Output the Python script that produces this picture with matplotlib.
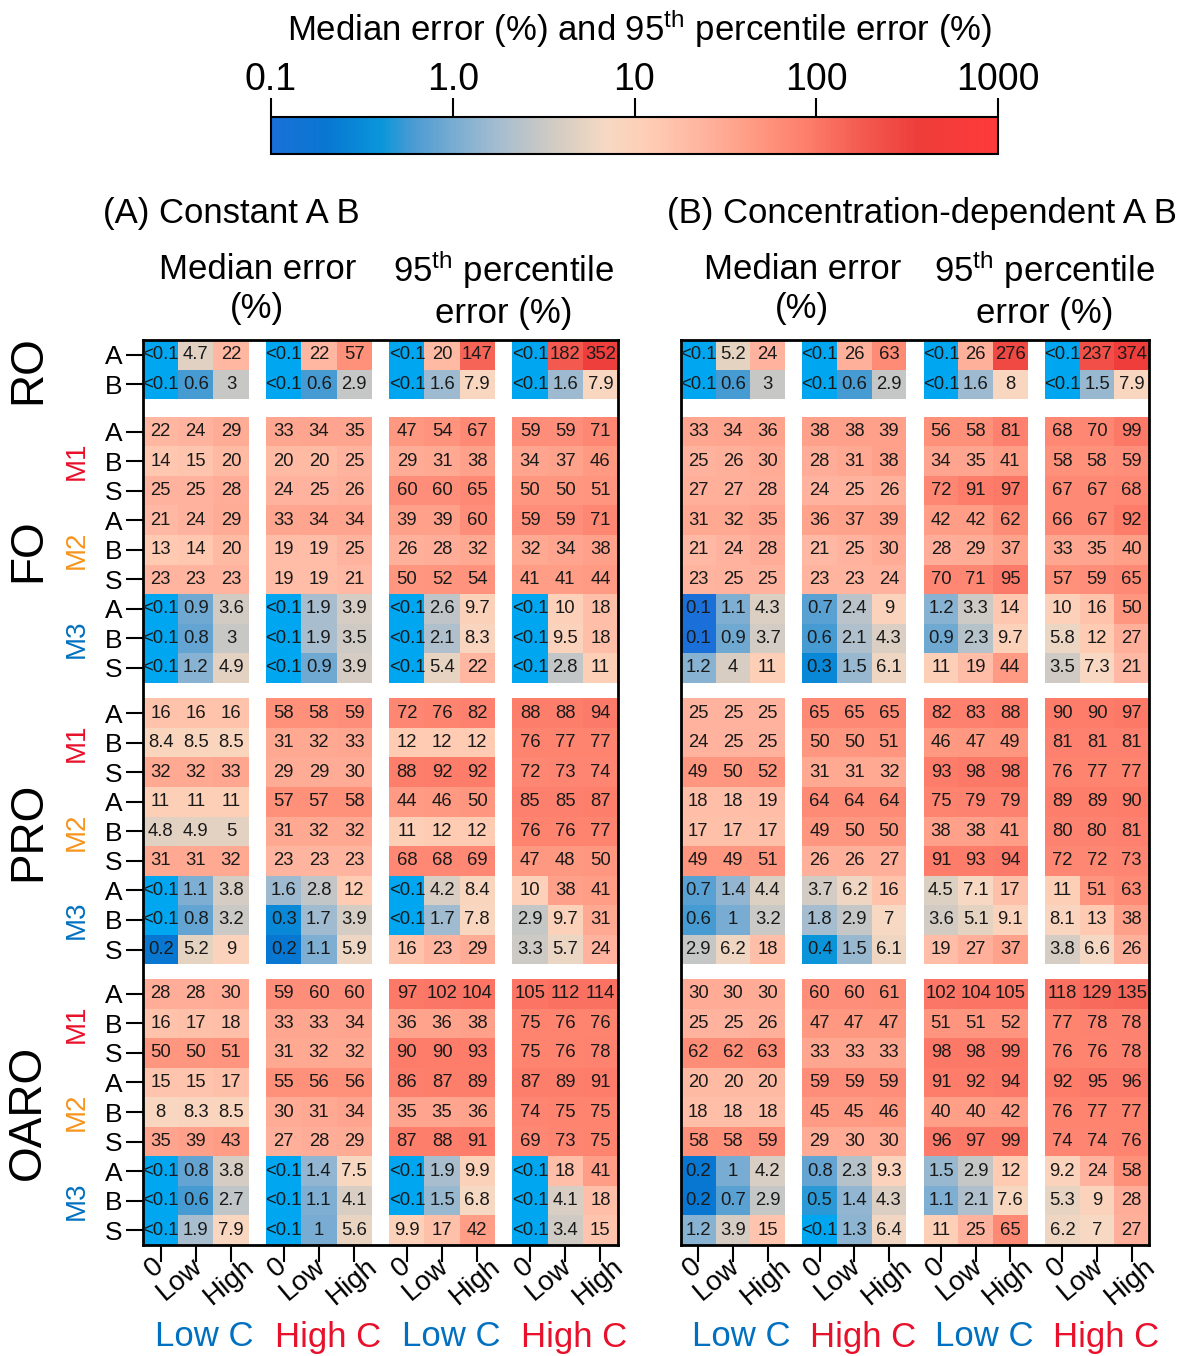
import numpy as np
import matplotlib
matplotlib.use('Agg')
import matplotlib.pyplot as plt
from matplotlib.colors import LinearSegmentedColormap, LogNorm
from matplotlib.cm import ScalarMappable
from matplotlib.transforms import blended_transform_factory, ScaledTranslation

plt.rcParams['font.family'] = ['Liberation Sans', 'DejaVu Sans']
plt.rcParams['mathtext.fontset'] = 'custom'
plt.rcParams['mathtext.rm'] = 'Liberation Sans'
plt.rcParams['mathtext.it'] = 'Liberation Sans:italic'
plt.rcParams['mathtext.bf'] = 'Liberation Sans:bold'

LT = 0.05  # sentinel meaning "<0.1"

# ---------------- data ----------------
processes = ['RO', 'FO', 'PRO', 'OARO']
models = ['M1', 'M2', 'M3']
model_colors = ['#e8102a', '#f7941d', '#0070c0']
ro_row_labels = ['A', 'B']
model_row_labels = ['A', 'B', 'S']
col_labels = ['0', 'Low', 'High']
conc_labels = ['Low C', 'High C', 'Low C', 'High C']
conc_colors = ['#0070c0', '#e8102a', '#0070c0', '#e8102a']
panel_titles = ['(A) Constant A B', '(B) Concentration-dependent A B']
metric_titles = ['Median error\n(%)', '95$^{\\mathrm{th}}$ percentile\nerror (%)']
cbar_ticks = [0.1, 1, 10, 100, 1000]
cbar_ticklabels = ['0.1', '1.0', '10', '100', '1000']

# Panel A: constant A B  (columns: median LowC 0/Low/High, median HighC, 95th LowC, 95th HighC)
A_RO = [
    [LT, 4.7, 22, LT, 22, 57, LT, 20, 147, LT, 182, 352],
    [LT, 0.6, 3, LT, 0.6, 2.9, LT, 1.6, 7.9, LT, 1.6, 7.9],
]
A_FO = [
    [22, 24, 29, 33, 34, 35, 47, 54, 67, 59, 59, 71],
    [14, 15, 20, 20, 20, 25, 29, 31, 38, 34, 37, 46],
    [25, 25, 28, 24, 25, 26, 60, 60, 65, 50, 50, 51],
    [21, 24, 29, 33, 34, 34, 39, 39, 60, 59, 59, 71],
    [13, 14, 20, 19, 19, 25, 26, 28, 32, 32, 34, 38],
    [23, 23, 23, 19, 19, 21, 50, 52, 54, 41, 41, 44],
    [LT, 0.9, 3.6, LT, 1.9, 3.9, LT, 2.6, 9.7, LT, 10, 18],
    [LT, 0.8, 3, LT, 1.9, 3.5, LT, 2.1, 8.3, LT, 9.5, 18],
    [LT, 1.2, 4.9, LT, 0.9, 3.9, LT, 5.4, 22, LT, 2.8, 11],
]
A_PRO = [
    [16, 16, 16, 58, 58, 59, 72, 76, 82, 88, 88, 94],
    [8.4, 8.5, 8.5, 31, 32, 33, 12, 12, 12, 76, 77, 77],
    [32, 32, 33, 29, 29, 30, 88, 92, 92, 72, 73, 74],
    [11, 11, 11, 57, 57, 58, 44, 46, 50, 85, 85, 87],
    [4.8, 4.9, 5, 31, 32, 32, 11, 12, 12, 76, 76, 77],
    [31, 31, 32, 23, 23, 23, 68, 68, 69, 47, 48, 50],
    [LT, 1.1, 3.8, 1.6, 2.8, 12, LT, 4.2, 8.4, 10, 38, 41],
    [LT, 0.8, 3.2, 0.3, 1.7, 3.9, LT, 1.7, 7.8, 2.9, 9.7, 31],
    [0.2, 5.2, 9, 0.2, 1.1, 5.9, 16, 23, 29, 3.3, 5.7, 24],
]
A_OARO = [
    [28, 28, 30, 59, 60, 60, 97, 102, 104, 105, 112, 114],
    [16, 17, 18, 33, 33, 34, 36, 36, 38, 75, 76, 76],
    [50, 50, 51, 31, 32, 32, 90, 90, 93, 75, 76, 78],
    [15, 15, 17, 55, 56, 56, 86, 87, 89, 87, 89, 91],
    [8, 8.3, 8.5, 30, 31, 34, 35, 35, 36, 74, 75, 75],
    [35, 39, 43, 27, 28, 29, 87, 88, 91, 69, 73, 75],
    [LT, 0.8, 3.8, LT, 1.4, 7.5, LT, 1.9, 9.9, LT, 18, 41],
    [LT, 0.6, 2.7, LT, 1.1, 4.1, LT, 1.5, 6.8, LT, 4.1, 18],
    [LT, 1.9, 7.9, LT, 1, 5.6, 9.9, 17, 42, LT, 3.4, 15],
]

# Panel B: concentration-dependent A B
B_RO = [
    [LT, 5.2, 24, LT, 26, 63, LT, 26, 276, LT, 237, 374],
    [LT, 0.6, 3, LT, 0.6, 2.9, LT, 1.6, 8, LT, 1.5, 7.9],
]
B_FO = [
    [33, 34, 36, 38, 38, 39, 56, 58, 81, 68, 70, 99],
    [25, 26, 30, 28, 31, 38, 34, 35, 41, 58, 58, 59],
    [27, 27, 28, 24, 25, 26, 72, 91, 97, 67, 67, 68],
    [31, 32, 35, 36, 37, 39, 42, 42, 62, 66, 67, 92],
    [21, 24, 28, 21, 25, 30, 28, 29, 37, 33, 35, 40],
    [23, 25, 25, 23, 23, 24, 70, 71, 95, 57, 59, 65],
    [0.1, 1.1, 4.3, 0.7, 2.4, 9, 1.2, 3.3, 14, 10, 16, 50],
    [0.1, 0.9, 3.7, 0.6, 2.1, 4.3, 0.9, 2.3, 9.7, 5.8, 12, 27],
    [1.2, 4, 11, 0.3, 1.5, 6.1, 11, 19, 44, 3.5, 7.3, 21],
]
B_PRO = [
    [25, 25, 25, 65, 65, 65, 82, 83, 88, 90, 90, 97],
    [24, 25, 25, 50, 50, 51, 46, 47, 49, 81, 81, 81],
    [49, 50, 52, 31, 31, 32, 93, 98, 98, 76, 77, 77],
    [18, 18, 19, 64, 64, 64, 75, 79, 79, 89, 89, 90],
    [17, 17, 17, 49, 50, 50, 38, 38, 41, 80, 80, 81],
    [49, 49, 51, 26, 26, 27, 91, 93, 94, 72, 72, 73],
    [0.7, 1.4, 4.4, 3.7, 6.2, 16, 4.5, 7.1, 17, 11, 51, 63],
    [0.6, 1, 3.2, 1.8, 2.9, 7, 3.6, 5.1, 9.1, 8.1, 13, 38],
    [2.9, 6.2, 18, 0.4, 1.5, 6.1, 19, 27, 37, 3.8, 6.6, 26],
]
B_OARO = [
    [30, 30, 30, 60, 60, 61, 102, 104, 105, 118, 129, 135],
    [25, 25, 26, 47, 47, 47, 51, 51, 52, 77, 78, 78],
    [62, 62, 63, 33, 33, 33, 98, 98, 99, 76, 76, 78],
    [20, 20, 20, 59, 59, 59, 91, 92, 94, 92, 95, 96],
    [18, 18, 18, 45, 45, 46, 40, 40, 42, 76, 77, 77],
    [58, 58, 59, 29, 30, 30, 96, 97, 99, 74, 74, 76],
    [0.2, 1, 4.2, 0.8, 2.3, 9.3, 1.5, 2.9, 12, 9.2, 24, 58],
    [0.2, 0.7, 2.9, 0.5, 1.4, 4.3, 1.1, 2.1, 7.6, 5.3, 9, 28],
    [1.2, 3.9, 15, LT, 1.3, 6.4, 11, 25, 65, 6.2, 7, 27],
]

panels = [[A_RO, A_FO, A_PRO, A_OARO], [B_RO, B_FO, B_PRO, B_OARO]]

# ---------------- colour map ----------------
anchor_vals = [0.1, 0.2, 0.4, 0.6, 1.0, 1.6, 2.9, 4.5, 7.0, 12, 25, 50, 90, 180, 370, 1000]
anchor_cols = ['#1a70d8', '#0877d2', '#0a96da', '#4b9bd3', '#78acd2', '#9dbad0',
               '#c6c7c6', '#ddd0c2', '#f7d9c3', '#ffcdb4', '#ffb29d', '#ff967f',
               '#fd7d6b', '#f35a50', '#ee3d3a', '#ff3a3a']
pos = [(np.log10(v) + 1) / 4 for v in anchor_vals]
cmap = LinearSegmentedColormap.from_list('err', list(zip(pos, anchor_cols)))
cmap.set_under('#00a6f0')
cmap.set_bad((1, 1, 1, 0))
norm = LogNorm(vmin=0.1, vmax=1000)

# ---------------- geometry in data units ----------------
CGAP = 0.5
RGAPS = [0.6, 0.53, 0.5]
block_sizes = [2, 9, 9, 9]

x_edges = [-0.5]
col_cells = []   # (matrix col index, centre)
p = -0.5
for g in range(4):
    for c in range(3):
        col_cells.append((len(x_edges) - 1, p + 0.5))
        p += 1
        x_edges.append(p)
    if g < 3:
        p += CGAP
        x_edges.append(p)

y_edges = [-0.5]
row_cells = []
block_rows = []
p = -0.5
for b, n in enumerate(block_sizes):
    rows_here = []
    for r in range(n):
        row_cells.append((len(y_edges) - 1, p + 0.5))
        rows_here.append(p + 0.5)
        p += 1
        y_edges.append(p)
    block_rows.append(rows_here)
    if b < 3:
        p += RGAPS[b]
        y_edges.append(p)

x_centers = [c for _, c in col_cells]
y_centers = [c for _, c in row_cells]


def fmt(v):
    return '<0.1' if v < 0.1 else f'{v:g}'


W, H = 1182, 1356
fig = plt.figure(figsize=(W / 100, H / 100), dpi=100)


def fxy(px, py):
    return px / W, 1 - py / H


label_dx = {'0': 0, 'Low': 3, 'High': 20}   # px nudges of the slanted tick labels

ax_boxes = [(143, 618), (681, 1149)]
top_px, bot_px = 340, 1245
axes = []
for k, (l, r) in enumerate(ax_boxes):
    ax = fig.add_axes([l / W, 1 - bot_px / H, (r - l) / W, (bot_px - top_px) / H])
    axes.append(ax)
    rows = [row for block in panels[k] for row in block]
    mat = np.full((len(y_edges) - 1, len(x_edges) - 1), np.nan)
    for (ri, yc), row in zip(row_cells, rows):
        for (ci, xc), v in zip(col_cells, row):
            mat[ri, ci] = v
            ax.text(xc, yc, fmt(v), ha='center', va='center', fontsize=13.3, color='#1a1a1a')
    ax.pcolormesh(x_edges, y_edges, np.ma.masked_invalid(mat), cmap=cmap, norm=norm,
                  shading='flat')
    ax.set_xlim(x_edges[0], x_edges[-1])
    ax.set_ylim(y_edges[-1], y_edges[0])
    for s in ax.spines.values():
        s.set_linewidth(2)
        s.set_color('black')
    ax.set_xticks(x_centers)
    ax.set_xticklabels([])
    ax.tick_params(axis='x', length=12, width=1.5)
    xtr = blended_transform_factory(ax.transData, ax.transAxes)
    for xc, lab in zip(x_centers, col_labels * 4):
        off = ScaledTranslation(label_dx[lab] / 100, -18 / 100, fig.dpi_scale_trans)
        ax.text(xc, 0, lab, transform=xtr + off, rotation=40, ha='right', va='center',
                rotation_mode='anchor', fontsize=20, clip_on=False)
    if k == 0:
        ax.set_yticks(y_centers)
        ax.set_yticklabels(ro_row_labels + model_row_labels * 9)
        ax.tick_params(axis='y', length=12, width=1.5, labelsize=19, pad=3)
        ytr = ax.get_yaxis_transform()
        for b, name in enumerate(processes):
            yc = np.mean(block_rows[b])
            ax.text(-0.242, yc, name, transform=ytr, rotation=90, ha='center',
                    va='center', fontsize=33, clip_on=False)
            if b > 0:
                for m in range(3):
                    ym = np.mean(block_rows[b][3 * m:3 * m + 3])
                    ax.text(-0.139, ym, models[m], transform=ytr, rotation=90,
                            ha='center', va='center', fontsize=20,
                            color=model_colors[m], clip_on=False)
    else:
        ax.set_yticks([])

    # headers and bottom labels
    tr = blended_transform_factory(ax.transData, fig.transFigure)
    shift = 0.0 if k == 0 else 0.25
    g_centers = [np.mean(x_centers[3 * g:3 * g + 3]) for g in range(4)]
    for m in range(2):
        xm = (g_centers[2 * m] + g_centers[2 * m + 1]) / 2 + shift
        ax.text(xm, fxy(0, 289)[1], metric_titles[m], transform=tr, ha='center',
                va='center', fontsize=25, linespacing=1.22)
    for g in range(4):
        ax.text(g_centers[g] + 0.25, fxy(0, 1337)[1], conc_labels[g], transform=tr,
                ha='center', va='center', fontsize=25, color=conc_colors[g])

fig.text(*fxy(103, 213), panel_titles[0], ha='left', va='center', fontsize=25)
fig.text(*fxy(667, 213), panel_titles[1], ha='left', va='center', fontsize=25)

# ---------------- colour bar ----------------
cx0, cx1, cy0, cy1 = 271, 998, 117, 154
cax = fig.add_axes([cx0 / W, 1 - cy1 / H, (cx1 - cx0) / W, (cy1 - cy0) / H])
sm = ScalarMappable(norm=norm, cmap=cmap)
cb = fig.colorbar(sm, cax=cax, orientation='horizontal')
cb.outline.set_linewidth(1.5)
cax.xaxis.set_ticks_position('top')
cax.xaxis.set_label_position('top')
cb.set_ticks(cbar_ticks)
cb.set_ticklabels(cbar_ticklabels)
cax.minorticks_off()
cax.tick_params(axis='x', length=14, width=1.5, labelsize=27, pad=0)
fig.text(*fxy(640, 29), 'Median error (%) and 95$^{\\mathrm{th}}$ percentile error (%)',
         ha='center', va='center', fontsize=25)

fig.savefig('out.png', dpi=100)
